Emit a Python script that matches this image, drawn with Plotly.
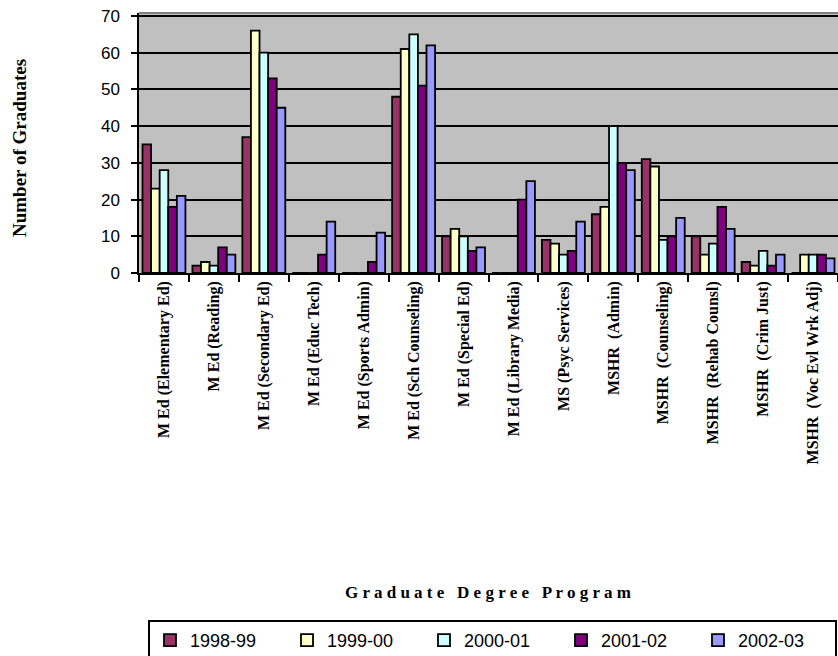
import plotly.graph_objects as go

categories = [
    "M Ed (Elementary Ed)", "M Ed (Reading)", "M Ed (Secondary Ed)", "M Ed (Educ Tech)",
    "M Ed (Sports Admin)", "M Ed (Sch Counseling)", "M Ed (Special Ed)", "M Ed (Library Media)",
    "MS (Psyc Services)", "MSHR\u00a0 (Admin)", "MSHR\u00a0 (Counseling)", "MSHR\u00a0 (Rehab Counsl)",
    "MSHR\u00a0 (Crim Just)", "MSHR\u00a0 (Voc Evl Wrk Adj)",
]
series_names = ["1998-99", "1999-00", "2000-01", "2001-02", "2002-03"]
v_1998_99 = [35, 2, 37, 0, 0, 48, 10, 0, 9, 16, 31, 10, 3, 0]
v_1999_00 = [23, 3, 66, 0, 0, 61, 12, 0, 8, 18, 29, 5, 2, 5]
v_2000_01 = [28, 2, 60, 0, 0, 65, 10, 0, 5, 40, 9, 8, 6, 5]
v_2001_02 = [18, 7, 53, 5, 3, 51, 6, 20, 6, 30, 10, 18, 2, 5]
v_2002_03 = [21, 5, 45, 14, 11, 62, 7, 25, 14, 28, 15, 12, 5, 4]
series_values = [v_1998_99, v_1999_00, v_2000_01, v_2001_02, v_2002_03]
colors = ["#993366", "#FFFFCC", "#CCFFFF", "#800080", "#9999FF"]
y_ticks = [0, 10, 20, 30, 40, 50, 60, 70]

fig = go.Figure()
for name, vals, col in zip(series_names, series_values, colors):
    fig.add_trace(go.Bar(
        x=categories, y=vals, name=name,
        marker=dict(color=col, line=dict(color="black", width=1.8)),
    ))

W, H = 838, 656
L, R, T, B = 139, 0, 13, 383
pw, ph = W - L - R, H - T - B

def px_x(x):
    return (x - L) / pw

def px_y(y):
    return (H - B - y) / ph

fig.update_layout(
    width=W, height=H,
    margin=dict(l=L, r=R, t=T, b=B, autoexpand=False),
    paper_bgcolor="white",
    plot_bgcolor="#C0C0C0",
    barmode="group",
    bargap=0.14,
    bargroupgap=0,
    showlegend=True,
    legend=dict(
        orientation="h",
        x=px_x(148), y=px_y(620), xanchor="left", yanchor="top",
        bordercolor="black", borderwidth=2,
        font=dict(family="Arial, Liberation Sans", size=18, color="black"),
        entrywidth=92, entrywidthmode="pixels",
        itemwidth=30,
        traceorder="normal",
    ),
    xaxis=dict(
        type="category",
        tickangle=-90,
        tickson="boundaries",
        ticks="outside", ticklen=7, tickwidth=1.5, tickcolor="black",
        showline=True, linecolor="black", linewidth=1.5,
        tickfont=dict(family="Times New Roman, Liberation Serif", size=16, color="black", weight="bold"),
        showgrid=False,
    ),
    yaxis=dict(
        range=[0, 70.8],
        tickvals=y_ticks,
        ticks="outside", ticklen=6, tickwidth=1.5, tickcolor="black",
        ticklabelstandoff=8,
        showline=True, linecolor="black", linewidth=1.5,
        gridcolor="black", gridwidth=1.5,
        zeroline=False,
        tickfont=dict(family="Arial, Liberation Sans", size=17, color="black"),
    ),
    annotations=[
        dict(text="<b>Number of Graduates</b>", xref="paper", yref="paper",
             x=px_x(20), y=px_y(148), textangle=-90, showarrow=False,
             xanchor="center", yanchor="middle",
             font=dict(family="Times New Roman, Liberation Serif", size=19, color="black")),
        dict(text="<b>G r a d u a t e   D e g r e e   P r o g r a m</b>", xref="paper", yref="paper",
             x=px_x(488), y=px_y(592), showarrow=False,
             xanchor="center", yanchor="middle",
             font=dict(family="Times New Roman, Liberation Serif", size=17, color="black")),
    ],
    shapes=[
        dict(type="line", xref="paper", yref="paper", x0=0, x1=1, y0=1, y1=1,
             line=dict(color="#808080", width=2)),
    ],
)

fig.write_html(
    "out.html",
    config={"displayModeBar": False},
    post_script="document.body.style.margin='0';document.body.style.overflow='hidden';",
)
